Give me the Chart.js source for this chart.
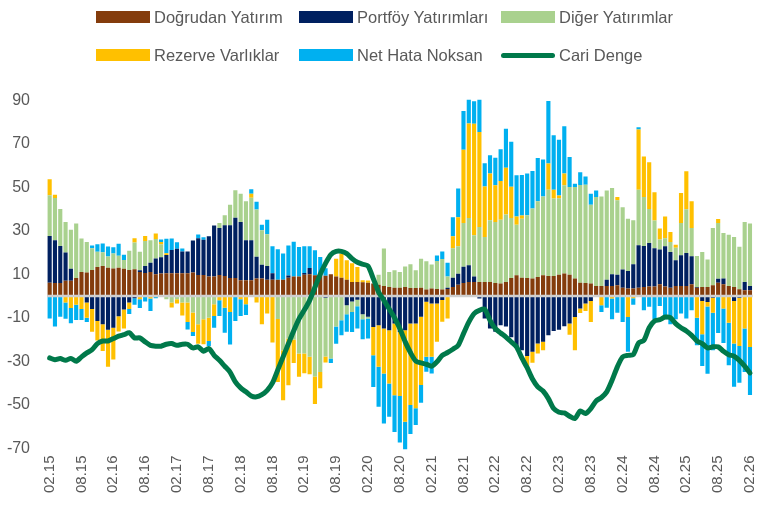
<!DOCTYPE html>
<html>
<head>
<meta charset="utf-8">
<script src="https://cdn.jsdelivr.net/npm/chart.js@4/dist/chart.umd.min.js"></script>
<style>
  body { margin: 0; background: #fff; }
  #wrap { position: relative; width: 771px; height: 508px; }
  #legend { position: absolute; left: 0; top: 0; width: 771px; height: 80px;
    font-family: 'Liberation Sans', Arial, sans-serif; font-size: 16.5px; color: #595959; }
  .item { position: absolute; height: 20px; line-height: 20px; white-space: nowrap; }
  .sw { position: absolute; left: 0; top: 4px; width: 54px; height: 12px; }
  .sw.line { top: 8px; height: 5px; border-radius: 3px; }
  .lbl { position: absolute; left: 58px; top: 0; }
</style>
</head>
<body>
<div id="wrap">
  <canvas id="myChart" width="771" height="508"></canvas>
  <div id="legend"></div>
</div>
<script>
// tick labels
const tickLabels = ['02.15','08.15','02.16','08.16','02.17','08.17','02.18','08.18','02.19','08.19','02.20','08.20',
  '02.21','08.21','02.22','08.22','02.23','08.23','02.24','08.24','02.25','08.25','02.26'];
const yTicks = [-70, -50, -30, -10, 10, 30, 50, 70, 90];

// months 02.15 .. 02.26
const months = [];
for (let i = 0; i < 133; i++) {
  const m = ((1 + i) % 12) + 1;
  const y = 15 + Math.floor((1 + i) / 12);
  months.push((m < 10 ? '0' + m : '' + m) + '.' + y);
}

// series (mlr $, 12-month sums)
const direct = [6.1,6,6,7,7,8.3,11,10.8,12,13.3, 13.8,13,12.6,13,12.5,12,12.3,11,10.6,11,
  10,10.3,10.5,10.5,10.5,10.5,10.5,10.8,9.7,9.7, 9,9,9.7,9.2,8.3,8.3,7.2,7.2,7.2,8,
  8,7.5,7.5,7.5,7.5,8.4,9,9,9.8,10, 9.5,9.5,9.3,10,9,8.4,7.5,6.4,6.4,6.3,
  6.1,5.7,5.2,4.6,4.1,3.8,3.8,4.1,3.7,3.7, 3.8,3,3.5,3.2,3,3.2,4.1,5.2,6,6.4,
  6.4,6.4,6.4,6.4,6,5.7,6.4,8.3,9.5,8.4, 8.3,8,8.7,9.5,9.2,9.2,9.8,10.3,9.8,8,
  6.1,6,5.7,4.6,4.6,4.6,4.6,4.9,3.8,3.4, 3.4,3.8,4.1,4.4,4.4,5.4,4.4,3.8,4.6,4.6,
  4.6,5.4,3.8,4.1,4.1,4.9,6.1,5.4,4.6,4.1, 3.1,2.6,2.6];
const portfolio = [21.5,19.6,17,13,5.5,0,0,-3,-6,-11.5, -13,-15.5,-14.6,-9.3,-6.2,-3,-1,0.8,3.2,4.3,
  7.2,7.5,8.4,10.7,11.2,10,10,14.7,16.9,16.2, 18.5,23.4,21.6,23.3,24.2,27.7,26.8,18.4,18.4,10,
  6.4,6.3,3,0,0,1,0,0,0.8,2.9, 0,0,-0.8,0,0,0,-4.3,-2.5,-1.7,-8.4,
  -9.6,-14.3,-13.5,-15,-15.8,-12.7,-16.6,-15.8,-12.7,-12.7, -9.6,-2.7,-3.5,-3.5,-1.8,0.6,4.3,5,7.4,7.7,
  2.6,-1.2,-10.4,-15,-16.5,-13.5,-14,-19,-23.4,-25, -27.6,-25.7,-21.9,-21,-18.1,-16.1,-15.5,-13.9,-12.7,-9.7,
  -5.8,-3.5,-2.3,-0.5,0,2.9,5.4,4.9,8.4,8.1, 11.2,19.5,18.9,20,17.6,16,18.5,16.4,11.8,14.1,
  15.2,12.9,0.3,-2.3,-2.8,-0.8,1.8,2.6,0,-2.3, -0.8,3.8,2];
const other = [18.7,19.5,17,14,18,25,15.5,14,10,7, 6.3,5.2,7,5.5,4,8.8,12.3,8.5,11.5,10.3,
  9,6,-1.5,-3,-1.5,-3,-3,-7.6,-13,-10.7, -10,-3.8,2.3,4.6,9.5,12.6,13,18,19.6,21.8,
  15.8,14.6,0,-10.6,-25,-19.6,-20,-26.5,-26.5,-28, -37,-35,-27,-28.8,-14,-11.2,-4.1,-4.9,-3,-2.3,
  -0.8,0,4.6,17.2,6.9,8,7.2,9.5,10.9,8.1, 13.3,13,11,12.9,14,5.2,13.6,12.7,20.2,21.8,
  18.9,25.3,20.7,28.4,28,29.4,31.1,27.6,23.3,27.1, 28.8,32.2,34.9,36.3,39.7,35.6,35.2,40.6,40.3,42.1,
  45,45.2,36.3,40.9,41.2,41,39.7,34.2,28.6,24, 20.2,25.6,22.5,15.6,12.7,4.6,3.7,4.6,5.8,14.9,
  20.1,13,14.3,16.1,12.7,26.4,25.7,21,23.6,23, 19.5,27.6,28.7];
const reserves = [7.4,1.5,0,-3,-5.5,-4,-6,-7,-10.5,-9, -12.3,-17,-14.6,-7,-8.7,-3,2,-1.5,2.3,-1.2,
  2.6,1,0.8,-2.3,-2,-6,-9,-9,-9,-11.5, -10.7,-5.4,-2,-5.4,-7.4,0,-1.5,-3.8,1.8,-3,
  -13,-8,-21.4,-29,-23,-21.5,-10.8,-10.7,-9,-8, -12.7,-7.4,-2.8,0,8.1,11,8.9,8.7,6.9,0.9,
  1,-13,-19,-20.7,-24.5,-33,-29.4,-42,-37.5,-39, -31.4,-25.3,-24.5,-17.6,-10,-10.4,5.5,13.3,33.7,43.4,
  51.3,43.7,23.3,21.5,16.9,17.8,21.5,14.3,3.8,1.5, -6.1,-5,-4.6,-4,12,4.1,1.2,5.4,-5.1,-15.3,
  -2,-3.4,-9.7,0,-4.3,0,-1.2,1.5,0,-9.7, -1,27.7,18.7,21.5,13,5,10,4.6,1.4,13.8,
  17.5,12.3,-10,-15.3,-2,-6.9,1.8,-5.8,-12.3,-19.6, -22.2,-15,-23.5];
const errors = [-10.3,-14,-9.5,-7.5,-7,-7,-5,-2,1.2,3.5, 4,4.6,2.8,5.5,2.5,-2.3,-3,-4,-2.5,-5.7,
  -1,1.2,6.6,5.2,3,1.4,-3.4,-1.8,1.7,1.1, -2.3,-5.4,-7.2,-11.5,-14.9,-11.5,-7.7,-5,2.1,3.5,
  2.6,6.7,12.4,14,12,13.8,16,13.5,12.3,10, 11.5,8.4,3.5,-2,-8,-6.9,-8.1,-9.2,-10.3,-9.2,
  -9.2,-14.6,-18.4,-23,-15.3,-16.9,-21.4,-12.7,-13.3,-7.7, -8.1,-6.9,-7.7,2.5,3.5,6.3,8.7,13.3,17.8,11,
  10.4,14.9,10.7,8.4,12.7,14.6,17.9,20.7,18.9,18.7, 19.2,17.3,19.9,17,28.8,25,25.7,21.8,13.8,1.5,
  5.8,3.8,5,3,-3.1,-5.4,-9.5,-7.7,-12,-16, -3,1,-6.6,-5,-10.7,-4.6,-10.7,-13,-10.7,-8,
  -10.4,-6.6,-12.7,-14.6,-31,-17.3,-17,-15.8,-19.6,-19.9, -16.9,-20,-22];
const current = [-28.5,-29.3,-28.8,-29.6,-28.7,-30,-28,-26.2,-24.7,-21.9, -20.7,-20.7,-19.6,-18.5,-17.8,-16.9,-19.3,-19.3,-21.1,-22.7,
  -23.1,-23.1,-22.2,-21.9,-22.7,-22.2,-22.2,-23.9,-23.4,-25.4, -24.2,-27.3,-29.6,-32.3,-35,-39.5,-42.3,-44.1,-46,-46.4,
  -45.4,-43.4,-40,-34,-28,-22,-16,-10.5,-6.5,-2, 4,10,15,19,20.5,20.5,19.5,17.2,15.5,14.6,
  13.8,8,1.8,-2,-6,-10,-15,-21,-26,-29.9, -30.8,-31.4,-32.3,-30.3,-27.3,-26,-24.5,-22.7,-17.3,-12,
  -8.1,-6.6,-6.1,-11.2,-15,-17,-18.9,-21.1,-23.4,-28.5, -33,-38.2,-41.8,-43.7,-47.2,-51.8,-53.5,-53.8,-55.3,-56.4,
  -52.9,-54.1,-51.8,-48.3,-46.7,-44.1,-38.8,-32.6,-28,-27.3, -27,-21.6,-20.4,-14.6,-11.5,-10.9,-9.7,-10,-12.7,-14.6,
  -16.1,-18.1,-20.7,-21.9,-23.9,-23.4,-23.4,-25.4,-27,-27.7, -29.6,-32.3,-35.4];

const names = ['Doğrudan Yatırım', 'Portföy Yatırımları', 'Diğer Yatırımlar', 'Rezerve Varlıklar', 'Net Hata Noksan', 'Cari Denge'];
const colors = ['#843C0C', '#002060', '#A9D18E', '#FFC000', '#00B0F0', '#00794A'];

const bar = (i, data) => ({
  type: 'bar', label: names[i], data: data, backgroundColor: colors[i],
  stack: 'bop', order: 1, barPercentage: 0.78, categoryPercentage: 1
});

const zeroLine = {
  id: 'zeroLine',
  beforeDatasetDraw: (chart, args) => {
    if (args.index !== 5) return;
    const ctx = chart.ctx;
    const y = chart.scales.y.getPixelForValue(0);
    ctx.save();
    ctx.strokeStyle = '#cfcfcf';
    ctx.lineWidth = 2.5;
    ctx.beginPath();
    ctx.moveTo(chart.chartArea.left, y);
    ctx.lineTo(chart.chartArea.right, y);
    ctx.stroke();
    ctx.restore();
  }
};

const tickFont = { family: "'Liberation Sans', Arial, sans-serif" };

new Chart(document.getElementById('myChart'), {
  data: {
    labels: months,
    datasets: [
      bar(0, direct), bar(1, portfolio), bar(2, other), bar(3, reserves), bar(4, errors),
      { type: 'line', label: names[5], data: current, borderColor: colors[5], borderWidth: 5,
        pointRadius: 0, tension: 0.25, stack: 'line', order: 0, borderCapStyle: 'round' }
    ]
  },
  options: {
    responsive: false,
    animation: false,
    layout: { padding: { top: 96, right: 2, left: 0, bottom: 0 } },
    plugins: { legend: { display: false }, tooltip: { enabled: false } },
    scales: {
      x: {
        stacked: true,
        grid: { display: false, drawTicks: false },
        border: { display: false },
        afterFit: (s) => { s.height = 55.5; },
        ticks: {
          autoSkip: false, maxRotation: 90, minRotation: 90, padding: 3,
          color: '#595959', font: { ...tickFont, size: 15 },
          callback: function (v) {
            const lab = this.getLabelForValue(v);
            return tickLabels.includes(lab) ? lab : '';
          }
        }
      },
      y: {
        stacked: true, min: -72, max: 92,
        grid: { display: false, drawTicks: false },
        border: { display: false },
        afterFit: (s) => { s.width = 47; },
        afterBuildTicks: (s) => { s.ticks = yTicks.map(v => ({ value: v })); },
        ticks: { padding: 17, color: '#595959', font: { ...tickFont, size: 16 } }
      }
    }
  },
  plugins: [zeroLine]
});

// legend: 3 columns, 2 rows
const legend = document.getElementById('legend');
const cols = [96, 299, 501];
const rows = [7, 45];
names.forEach((n, i) => {
  const it = document.createElement('div');
  it.className = 'item';
  it.style.left = cols[i % 3] + 'px';
  it.style.top = rows[Math.floor(i / 3)] + 'px';
  const sw = document.createElement('span');
  sw.className = 'sw' + (i === 5 ? ' line' : '');
  sw.style.background = colors[i];
  const t = document.createElement('span');
  t.className = 'lbl';
  t.textContent = n;
  it.appendChild(sw);
  it.appendChild(t);
  legend.appendChild(it);
});
</script>
</body>
</html>
